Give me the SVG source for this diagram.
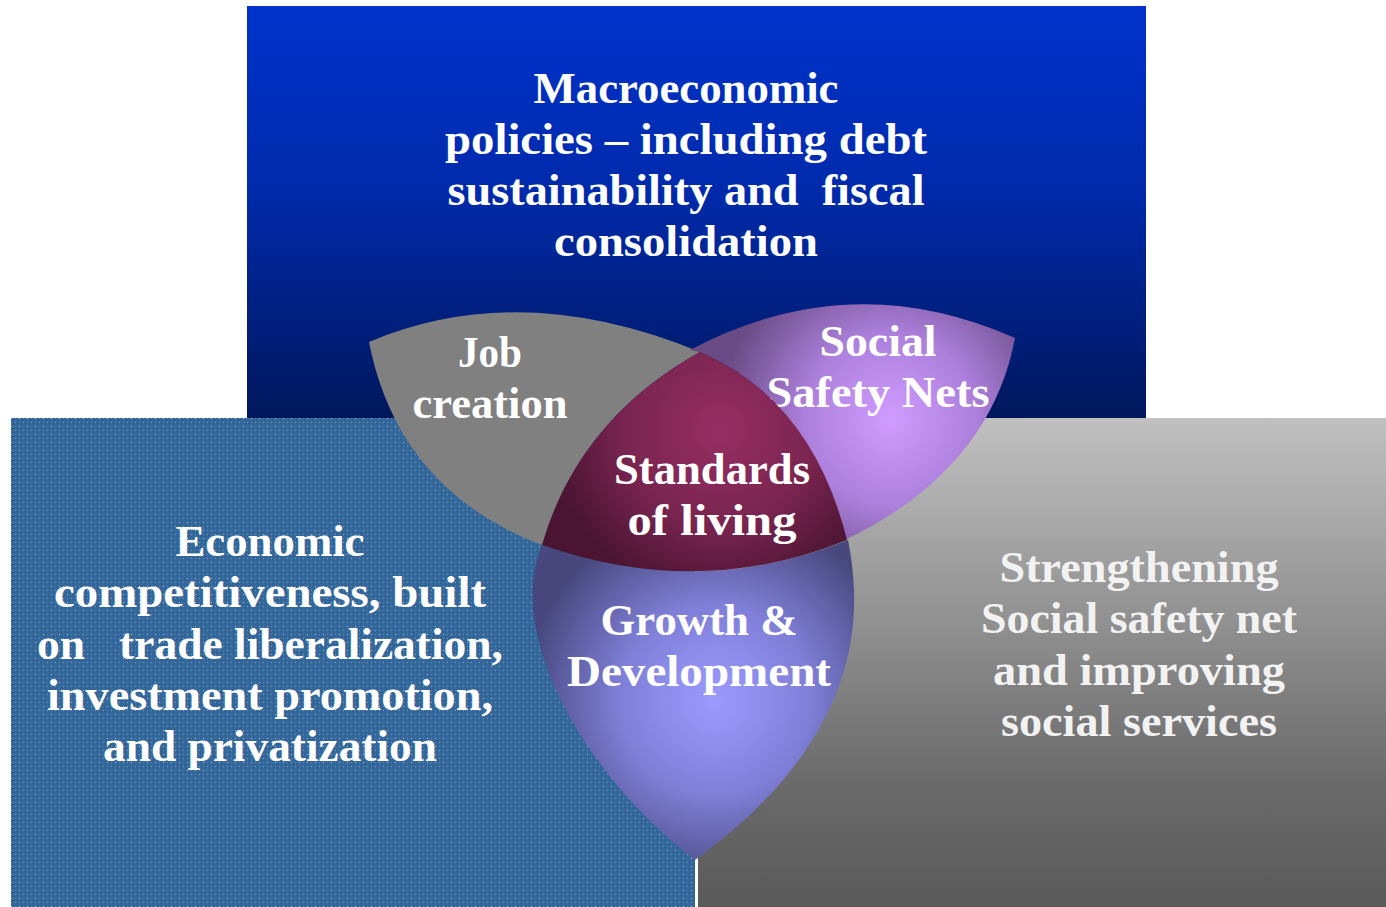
<svg xmlns="http://www.w3.org/2000/svg" width="1386" height="907" viewBox="0 0 1386 907">
  <style>
    .t { font-family: "Liberation Serif", "DejaVu Serif", serif; font-weight: bold; font-size: 45px; fill: #ffffff; text-anchor: middle; }
    .g { fill: #f2f2f2; }
  </style>
  <defs>
    <linearGradient id="topGrad" x1="0" y1="0" x2="0" y2="1">
      <stop offset="0" stop-color="#0033cc"/>
      <stop offset="0.45" stop-color="#002aab"/>
      <stop offset="1" stop-color="#00175c"/>
    </linearGradient>
    <linearGradient id="grayGrad" x1="0" y1="0" x2="0" y2="1">
      <stop offset="0" stop-color="#c0c0c0"/>
      <stop offset="0.75" stop-color="#6a6a6a"/>
      <stop offset="1" stop-color="#5a5a5a"/>
    </linearGradient>
    <pattern id="dots" x="11" y="418" width="8" height="8" patternUnits="userSpaceOnUse">
      <rect width="8" height="8" fill="#336699"/>
      <rect x="0" y="0" width="1" height="1" fill="#a8c4e4"/>
      <rect x="4" y="4" width="1" height="1" fill="#7c9fcc"/>
      <rect x="0" y="4" width="1" height="1" fill="#5a85b8"/>
      <rect x="4" y="0" width="1" height="1" fill="#5a85b8"/>
    </pattern>
    <radialGradient id="purpleGrad" gradientUnits="userSpaceOnUse" cx="890" cy="420" r="170">
      <stop offset="0" stop-color="#cf9cff"/>
      <stop offset="0.5" stop-color="#ad80dc"/>
      <stop offset="1" stop-color="#6a4b86"/>
    </radialGradient>
    <radialGradient id="centerGrad" gradientUnits="userSpaceOnUse" cx="720" cy="430" r="170">
      <stop offset="0" stop-color="#972e63"/>
      <stop offset="0.55" stop-color="#7a2550"/>
      <stop offset="1" stop-color="#4a1432"/>
    </radialGradient>
    <radialGradient id="growthGrad" gradientUnits="userSpaceOnUse" cx="715" cy="700" r="190">
      <stop offset="0" stop-color="#9b9bff"/>
      <stop offset="0.5" stop-color="#7f7fd8"/>
      <stop offset="1" stop-color="#48487f"/>
    </radialGradient>
  </defs>

  <g id="macro">
    <rect x="247" y="6" width="899" height="412" fill="url(#topGrad)"/>
    <text class="t" x="686" y="103" textLength="305" lengthAdjust="spacingAndGlyphs">Macroeconomic</text>
    <text class="t" x="686" y="154" textLength="482" lengthAdjust="spacingAndGlyphs">policies – including debt</text>
    <text class="t" x="686" y="205" textLength="477" lengthAdjust="spacingAndGlyphs" xml:space="preserve">sustainability and  fiscal</text>
    <text class="t" x="686" y="256" textLength="264" lengthAdjust="spacingAndGlyphs">consolidation</text>
  </g>

  <g id="economic">
    <rect x="11" y="418" width="684" height="489" fill="url(#dots)"/>
    <text class="t" x="270" y="556" textLength="189" lengthAdjust="spacingAndGlyphs">Economic</text>
    <text class="t" x="270" y="607" textLength="432" lengthAdjust="spacingAndGlyphs">competitiveness, built</text>
    <text class="t" x="270" y="659" textLength="466" lengthAdjust="spacingAndGlyphs" xml:space="preserve">on   trade liberalization,</text>
    <text class="t" x="270" y="710" textLength="446" lengthAdjust="spacingAndGlyphs">investment promotion,</text>
    <text class="t" x="270" y="761" textLength="334" lengthAdjust="spacingAndGlyphs">and privatization</text>
  </g>

  <g id="strengthening">
    <rect x="698" y="418" width="688" height="489" fill="url(#grayGrad)"/>
    <text class="t g" x="1139" y="582" textLength="279" lengthAdjust="spacingAndGlyphs">Strengthening</text>
    <text class="t g" x="1139" y="633" textLength="316" lengthAdjust="spacingAndGlyphs">Social safety net</text>
    <text class="t g" x="1139" y="685" textLength="292" lengthAdjust="spacingAndGlyphs">and improving</text>
    <text class="t g" x="1139" y="736" textLength="276" lengthAdjust="spacingAndGlyphs">social services</text>
  </g>

  <g id="job-creation">
    <path d="M369,342 Q520,278 700,352 Q578,420 542,545 Q398,490 369,342 Z" fill="#808080"/>
    <text class="t" x="490" y="367" textLength="64" lengthAdjust="spacingAndGlyphs">Job</text>
    <text class="t" x="490" y="418" textLength="155" lengthAdjust="spacingAndGlyphs">creation</text>
  </g>

  <g id="social-safety-nets">
    <path d="M690,350 Q850,265 1015,338 Q990,470 845,540 Q812,400 700,352 Z" fill="url(#purpleGrad)"/>
    <text class="t" x="878" y="356" textLength="117" lengthAdjust="spacingAndGlyphs">Social</text>
    <text class="t" x="878" y="407" textLength="223" lengthAdjust="spacingAndGlyphs">Safety Nets</text>
  </g>

  <g id="growth-development">
    <path d="M542,545 Q700,600 848,540 C864,620 860,740 695,860 C578,770 506,630 542,545 Z" fill="url(#growthGrad)"/>
    <text class="t" x="699" y="635" textLength="197" lengthAdjust="spacingAndGlyphs">Growth &amp;</text>
    <text class="t" x="699" y="686" textLength="264" lengthAdjust="spacingAndGlyphs">Development</text>
  </g>

  <g id="standards-of-living">
    <path d="M700,352 Q812,400 847,540 Q700,600 542,545 Q578,420 700,352 Z" fill="url(#centerGrad)"/>
    <text class="t" x="712" y="484" textLength="196" lengthAdjust="spacingAndGlyphs">Standards</text>
    <text class="t" x="712" y="535" textLength="169" lengthAdjust="spacingAndGlyphs">of living</text>
  </g>

  <g id="connectors"/>
</svg>
